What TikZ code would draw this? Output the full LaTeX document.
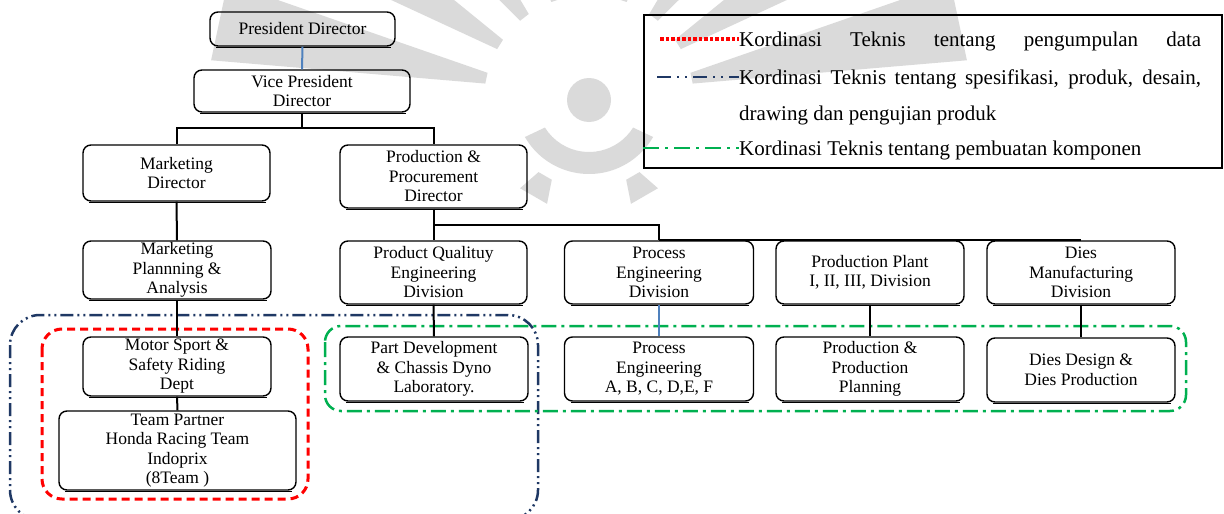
\documentclass[tikz,border=0pt]{standalone}
\usepackage{fontspec}
\setmainfont{Liberation Serif}
\definecolor{navyline}{HTML}{1F3864}
\definecolor{greenline}{HTML}{00B050}
\definecolor{redline}{HTML}{FF0000}
\definecolor{steelline}{HTML}{4F81BD}
\definecolor{markgray}{HTML}{DADADA}
\begin{document}
\begin{tikzpicture}[x=1pt,y=-1pt,
  orgbox/.style={draw, line width=1.4pt, rounded corners=8pt,
    align=center, inner sep=0pt,
    font=\fontsize{17.5}{19.5}\selectfont},
  boxshade/.style={line width=1.4pt},
  link/.style={line width=2pt},
  redzone/.style={draw=redline, line width=3pt, rounded corners=20pt,
    dash pattern=on 8pt off 5pt},
  navyzone/.style={draw=navyline, line width=2.5pt, rounded corners=30pt,
    dash pattern=on 13pt off 4pt on 2pt off 4pt on 2pt off 4pt},
  greenzone/.style={draw=greenline, line width=2.5pt, rounded corners=16pt,
    dash pattern=on 15pt off 5pt on 3pt off 5pt},
  legtext/.style={anchor=base west, inner sep=0pt,
    font=\fontsize{21}{24}\selectfont}
]
\useasboundingbox (0,0) rectangle (1224,514);

% faint emblem in the background
\begin{scope}
\clip (0,0) rectangle (1224,514);
\begin{scope}[shift={(589,100)}, fill=markgray]
  \fill (0,0) circle[radius=22];
  \fill (32:52) arc[start angle=32, end angle=148, radius=52]
     -- (150:74) arc[start angle=150, end angle=30, radius=74] -- cycle;
  \foreach \t in {12,32,52,72,108,128,148,168}
    \fill ({-\t+3}:105) -- ({-\t+6}:380) -- ({-\t-6}:380) -- ({-\t-3}:105) -- cycle;
  \foreach \t in {60,120}
    \fill ({\t-5}:88) -- ({\t-8}:112) -- ({\t+8}:112) -- ({\t+5}:88) -- cycle;
\end{scope}
\end{scope}

% coordination zones
\draw[navyzone] (10,315) rectangle (538,520);
\draw[redzone] (42,329) rectangle (308,499);
\draw[greenzone] (325,326) rectangle (1186,411);

% top management
\node[orgbox, minimum width=185pt, minimum height=34pt] (pres) at (302.5,29) {President Director};
\node[orgbox, minimum width=216pt, minimum height=42pt] (vp) at (302,91) {Vice President\\Director};
\node[orgbox, minimum width=187pt, minimum height=56pt] (mkt) at (176.5,173) {Marketing\\Director};
\node[orgbox, minimum width=187pt, minimum height=63pt] (prod) at (433.5,176.5) {Production \&\\Procurement\\Director};

% divisions
\node[orgbox, minimum width=188pt, minimum height=58pt] (mpa) at (177,270) {Marketing\\Plannning \&\\Analysis};
\node[orgbox, minimum width=187pt, minimum height=63pt] (pqe) at (433.5,272.5) {Product Qualituy\\Engineering\\Division};
\node[orgbox, minimum width=189pt, minimum height=63pt] (ped) at (659,272.5) {Process\\Engineering\\Division};
\node[orgbox, minimum width=188pt, minimum height=63pt] (ppd) at (870,272.5) {Production Plant\\I, II, III, Division};
\node[orgbox, minimum width=188pt, minimum height=63pt] (dmd) at (1081,272.5) {Dies\\Manufacturing\\Division};

% departments
\node[orgbox, minimum width=188pt, minimum height=59pt] (msr) at (177,366.5) {Motor Sport \&\\Safety Riding\\Dept};
\node[orgbox, minimum width=237pt, minimum height=79pt] (tp) at (177.5,450.5) {Team Partner\\Honda Racing Team\\Indoprix\\(8Team )};
\node[orgbox, minimum width=188pt, minimum height=64pt] (pdc) at (434,369) {Part Development\\\& Chassis Dyno\\Laboratory.};
\node[orgbox, minimum width=189pt, minimum height=64pt] (pea) at (659,369) {Process\\Engineering\\A, B, C, D,E, F};
\node[orgbox, minimum width=188pt, minimum height=64pt] (ppp) at (870,369) {Production \&\\Production\\Planning};
\node[orgbox, minimum width=188pt, minimum height=64pt] (ddp) at (1081,370) {Dies Design \&\\Dies Production};

% heavier lower edge under every box
\foreach \n in {pres,vp,mkt,prod,mpa,pqe,ped,ppd,dmd,msr,tp,pdc,pea,ppp,ddp}
  \draw[boxshade] ([xshift=7pt,yshift=-0.7pt]\n.south west) -- ([xshift=-5pt,yshift=-0.7pt]\n.south east);

% reporting lines
\draw[steelline, line width=2pt] (pres.south) -- (vp.north);
\coordinate (vpj) at (302,128);
\draw[link] (vp.south) -- (vpj);
\draw[link] (mkt.north) |- (vpj) -| (prod.north);
\draw[link] (mkt.south) -- (mpa.north);
\draw[link] (mpa.south) -- (msr.north);
\draw[link] (msr.south) -- (tp.north);
\coordinate (prj) at (433.5,225);
\draw[link] (prod.south) -- (pqe.north);
\draw[link] (prj) -| (ped.north);
\draw[link] (ped.north) -- (dmd.north);
\draw[link] (pqe.south) -- (pdc.north);
\draw[steelline, line width=2pt] (ped.south) -- (pea.north);
\draw[line width=2.8pt] (ppd.south) -- (ppp.north);
\draw[line width=1.3pt] (dmd.south) -- (ddp.north);

% legend
\node[draw, line width=1.8pt, minimum width=578pt, minimum height=153pt, inner sep=0pt] (legend) at (933,91.5) {};
\coordinate (la) at (660,39);
\coordinate (lb) at (739,39);
\coordinate (lc) at (657,77);
\coordinate (ld) at (739,77);
\coordinate (le) at (legend.west |- 0,148);
\coordinate (lf) at (739,148);
\draw[redline, line width=4pt, dash pattern=on 3.5pt off 2pt] (la) -- (lb);
\draw[navyline, line width=1.6pt, dash pattern=on 14pt off 6pt on 2pt off 6pt on 2pt off 6pt] (lc) -- (ld);
\draw[greenline, line width=1.8pt, dash pattern=on 16pt off 6pt on 3pt off 6pt] (le) -- (lf);
\node[legtext] (l1) at (739,46) {\makebox[462pt][s]{Kordinasi Teknis tentang pengumpulan data}};
\node[legtext] (l2) at (739,84) {\makebox[462pt][s]{Kordinasi Teknis tentang spesifikasi, produk, desain,}};
\node[legtext] (l3) at (739,120) {drawing dan pengujian produk};
\node[legtext] (l4) at (739,155) {Kordinasi Teknis tentang pembuatan komponen};
\end{tikzpicture}
\end{document}
